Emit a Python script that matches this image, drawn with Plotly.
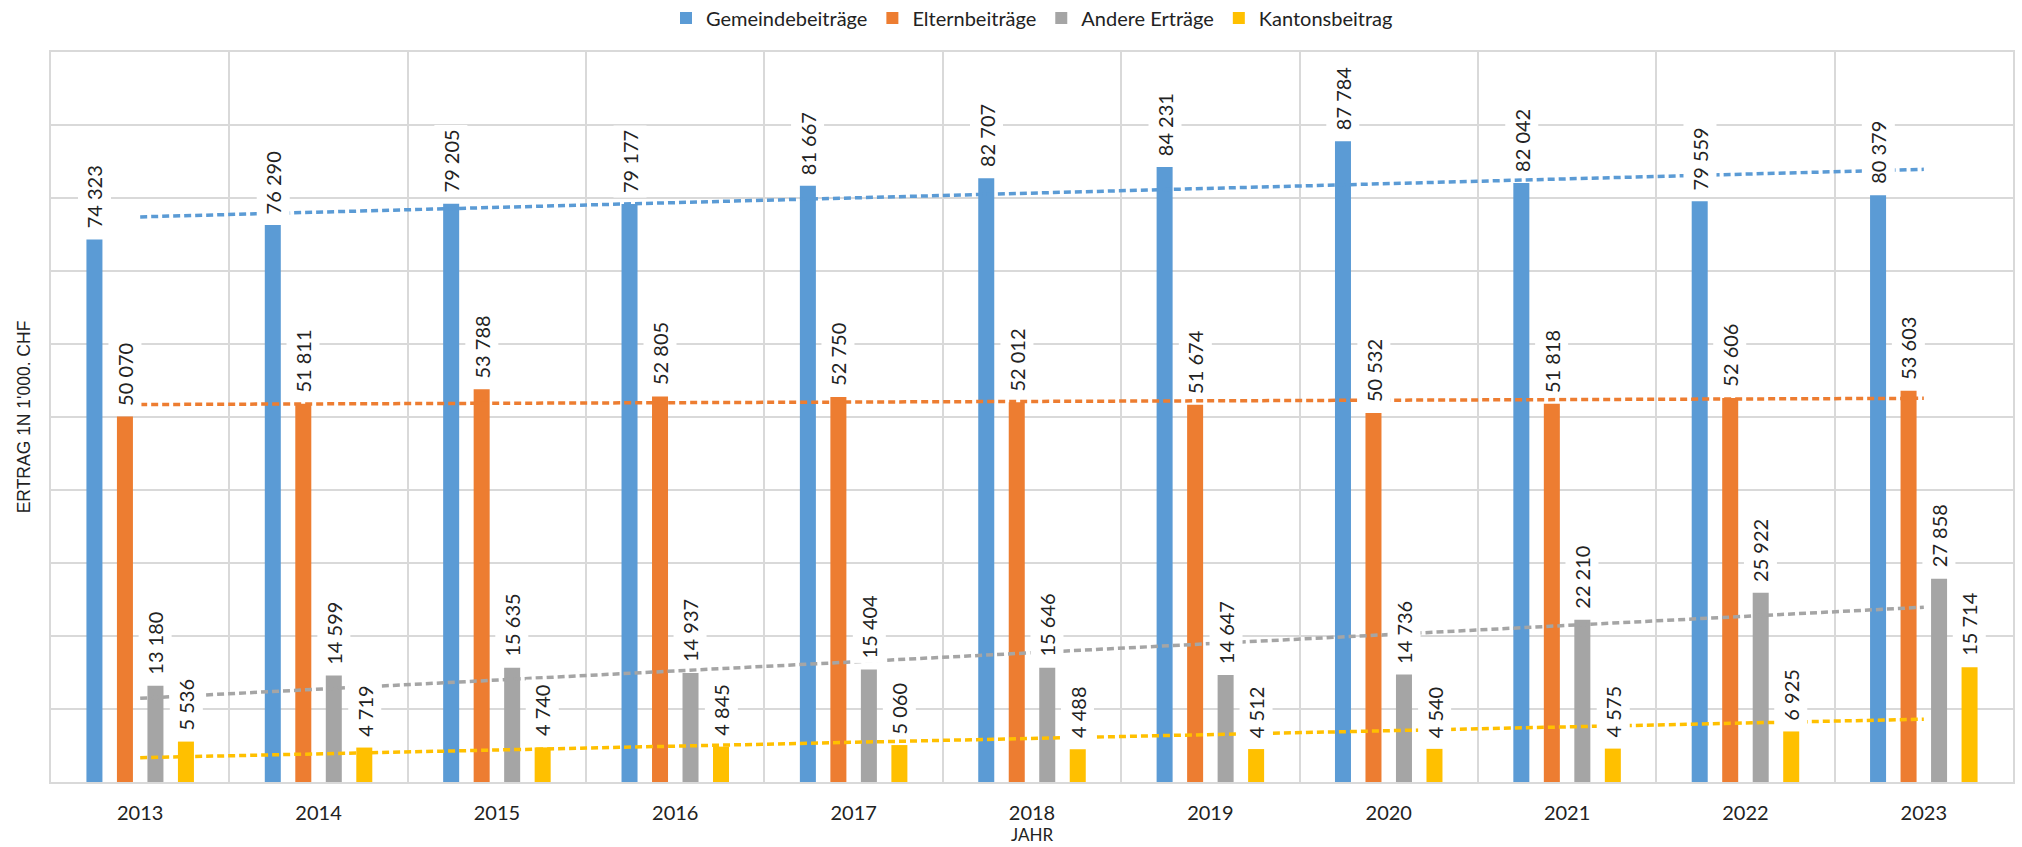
import numpy as np
import plotly.graph_objects as go

years = ["2013", "2014", "2015", "2016", "2017", "2018", "2019", "2020", "2021", "2022", "2023"]
gemeinde = [74323, 76290, 79205, 79177, 81667, 82707, 84231, 87784, 82042, 79559, 80379]
eltern = [50070, 51811, 53788, 52805, 52750, 52012, 51674, 50532, 51818, 52606, 53603]
andere = [13180, 14599, 15635, 14937, 15404, 15646, 14647, 14736, 22210, 25922, 27858]
kanton = [5536, 4719, 4740, 4845, 5060, 4488, 4512, 4540, 4575, 6925, 15714]

series_names = ["Gemeindebeiträge", "Elternbeiträge", "Andere Erträge", "Kantonsbeitrag"]
series_values = [gemeinde, eltern, andere, kanton]
colors = ["#5B9BD5", "#ED7D31", "#A5A5A5", "#FFC000"]

BARGAP = 0.316
BARGROUPGAP = 0.475
FONT = "Lato"
TXT = "#222222"

fig = go.Figure()

for name, vals, col in zip(series_names, series_values, colors):
    fig.add_trace(go.Bar(x=years, y=vals, name=name, marker=dict(color=col, line=dict(width=0)),
                         hoverinfo="x+y+name"))

# linear trendlines
idx = np.arange(len(years))
for vals, col in zip(series_values, colors):
    k, d = np.polyfit(idx, np.array(vals, dtype=float), 1)
    fit = k * idx + d
    fig.add_trace(go.Scatter(x=years, y=fit, mode="lines", showlegend=False, hoverinfo="skip",
                             line=dict(color=col, width=3.5, dash="7px,4px")))

# data labels
slot = (1 - BARGAP) / len(series_names)
annotations = []
for j, vals in enumerate(series_values):
    off = (j - (len(series_names) - 1) / 2) * slot
    for i, v in enumerate(vals):
        annotations.append(dict(
            x=i + off, y=v, xref="x", yref="y",
            text=f"{v:,}".replace(",", " "),
            textangle=-90, showarrow=False,
            xanchor="center", yanchor="bottom", yshift=6,
            bgcolor="white", borderpad=4,
            font=dict(family=FONT, size=20, color=TXT),
        ))

M_T, M_B = 52, 65
PLOT_H = 847 - M_T - M_B
# x-axis title as paper annotation (bottom of figure)
annotations.append(dict(
    text="JAHR", x=0.5, xref="paper", y=-52 / PLOT_H, yref="paper",
    xanchor="center", yanchor="middle", showarrow=False,
    font=dict(family=FONT, size=17, color=TXT),
))

fig.update_layout(
    width=2022, height=847,
    margin=dict(l=51, r=9, t=M_T, b=M_B, autoexpand=False),
    paper_bgcolor="white", plot_bgcolor="white",
    barmode="group", bargap=BARGAP, bargroupgap=BARGROUPGAP,
    font=dict(family=FONT, size=20, color=TXT),
    legend=dict(orientation="h", x=0.5, xanchor="center", y=1 + 34 / PLOT_H, yanchor="middle",
                font=dict(family=FONT, size=20, color=TXT),
                itemwidth=30, traceorder="normal"),
    annotations=annotations,
    showlegend=True,
)

fig.update_xaxes(
    type="category", tickson="boundaries",
    showgrid=True, gridcolor="#D9D9D9", gridwidth=1.5,
    showline=True, linecolor="#D9D9D9", linewidth=2, mirror=True,
    ticks="", ticklabelstandoff=12,
    tickfont=dict(family=FONT, size=20, color=TXT),
)
fig.update_yaxes(
    range=[0, 100000], dtick=10000, tick0=0,
    showgrid=True, gridcolor="#D9D9D9", gridwidth=1.5,
    showline=True, linecolor="#D9D9D9", linewidth=2, mirror=True,
    showticklabels=False, ticks="", zeroline=False,
    title=dict(text="ERTRAG 1N 1'000. CHF", font=dict(family="Liberation Sans", size=17.5, color=TXT),
               standoff=14),
)

fig.write_html("out.html",
               config={"displayModeBar": False},
               post_script="document.body.style.margin='0';document.body.style.padding='0';"
                           "document.documentElement.style.overflow='hidden';")
